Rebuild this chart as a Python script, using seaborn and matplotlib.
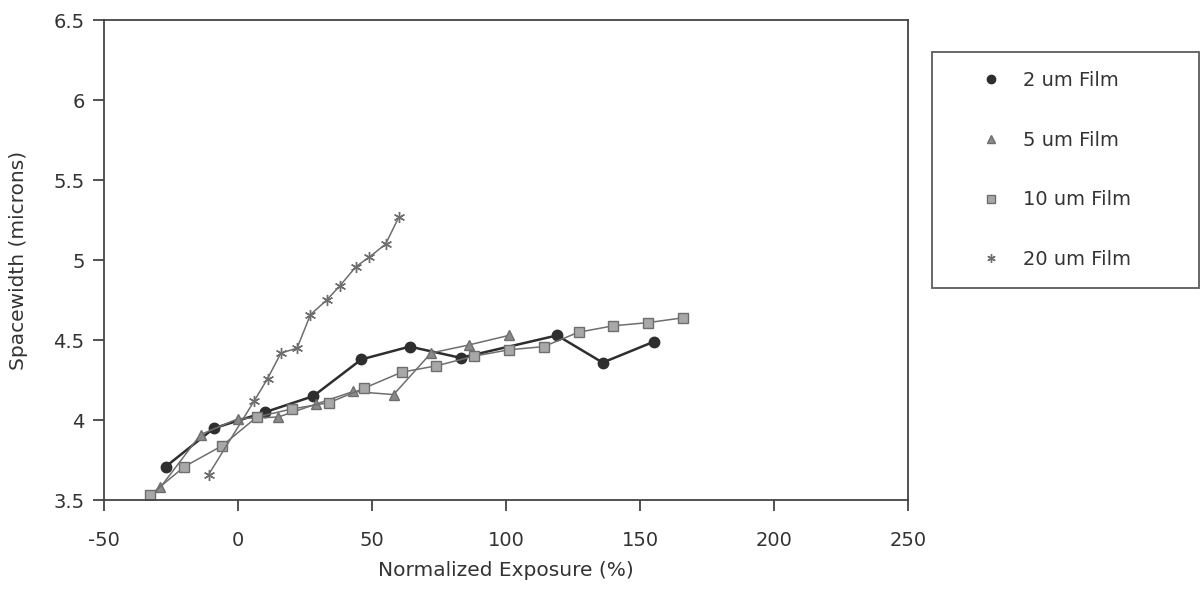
import pandas as pd
import seaborn as sns
import matplotlib.pyplot as plt

# Datos
x_2um = [-27, -9, 10, 28, 46, 64, 83, 119, 136, 155]
y_2um = [3.71, 3.95, 4.05, 4.15, 4.38, 4.46, 4.39, 4.53, 4.36, 4.49]

x_5um = [-29, -14, 0, 15, 29, 43, 58, 72, 86, 101]
y_5um = [3.58, 3.91, 4.01, 4.02, 4.10, 4.18, 4.16, 4.42, 4.47, 4.53]

x_10um = [-33, -20, -6, 7, 20, 34, 47, 61, 74, 88, 101, 114, 127, 140, 153, 166]
y_10um = [3.53, 3.71, 3.84, 4.02, 4.07, 4.11, 4.20, 4.30, 4.34, 4.40, 4.44, 4.46, 4.55, 4.59, 4.61, 4.64]

x_20um = [-11, 6, 11, 16, 22, 27, 33, 38, 44, 49, 55, 60]
y_20um = [3.66, 4.12, 4.26, 4.42, 4.45, 4.66, 4.75, 4.84, 4.96, 5.02, 5.10, 5.27]

# nombre, x, y, marcador, color linea, relleno, ancho, tamano
series = [
    ("2 um Film", x_2um, y_2um, "o", "#2e2e2e", "#2e2e2e", 1.8, 7.5),
    ("5 um Film", x_5um, y_5um, "^", "#6e6e6e", "#8a8a8a", 1.1, 7),
    ("10 um Film", x_10um, y_10um, "s", "#6e6e6e", "#a8a8a8", 1.1, 7.5),
    ("20 um Film", x_20um, y_20um, (6, 2, 0), "#6e6e6e", "#8a8a8a", 1.1, 8),
]

sns.set_style("white")
plt.rcParams["font.family"] = ["DejaVu Sans"]
plt.rcParams["axes.unicode_minus"] = False

fig = plt.figure(figsize=(12.04, 5.92), dpi=100)
ax = fig.add_axes([0.0864, 0.155, 0.668, 0.811])

for nombre, xs, ys, marca, color, relleno, ancho, tam in series:
    datos = pd.DataFrame({"x": xs, "y": ys})
    sns.lineplot(data=datos, x="x", y="y", ax=ax, color=color, linewidth=ancho,
                 marker=marca, markersize=tam, markeredgecolor=color,
                 markerfacecolor=relleno, markeredgewidth=1.0,
                 label=nombre, sort=False)

ax.set_xlim(-50, 250)
ax.set_ylim(3.5, 6.5)
ax.set_xticks([-50, 0, 50, 100, 150, 200, 250])
ax.set_yticks([3.5, 4, 4.5, 5, 5.5, 6, 6.5])
ax.set_yticklabels(["3.5", "4", "4.5", "5", "5.5", "6", "6.5"])
ax.tick_params(direction="out", length=8, width=1.2, labelsize=14, colors="#333333",
               bottom=True, left=True, pad=6)
ax.tick_params(axis="x", pad=14)
for lado in ax.spines.values():
    lado.set_color("#444444")
    lado.set_linewidth(1.3)
ax.set_xlabel("Normalized Exposure (%)", fontsize=14.5, color="#333333", labelpad=8)
ax.set_ylabel("Spacewidth (microns)", fontsize=14.5, color="#333333", labelpad=18)

leg = ax.legend(loc="upper left", bbox_to_anchor=(1.03, 0.441, 0.331, 0.492),
                mode="expand", frameon=True, fontsize=14, borderpad=0.95,
                labelspacing=2.1, handlelength=4.1, handletextpad=-0.4,
                fancybox=False, edgecolor="#333333", borderaxespad=0)
leg.get_frame().set_linewidth(1.3)
for h in leg.legend_handles:
    h.set_linestyle("None")
    h.set_markersize(6)
for t in leg.get_texts():
    t.set_color("#333333")

fig.savefig("out.png", dpi=100)
